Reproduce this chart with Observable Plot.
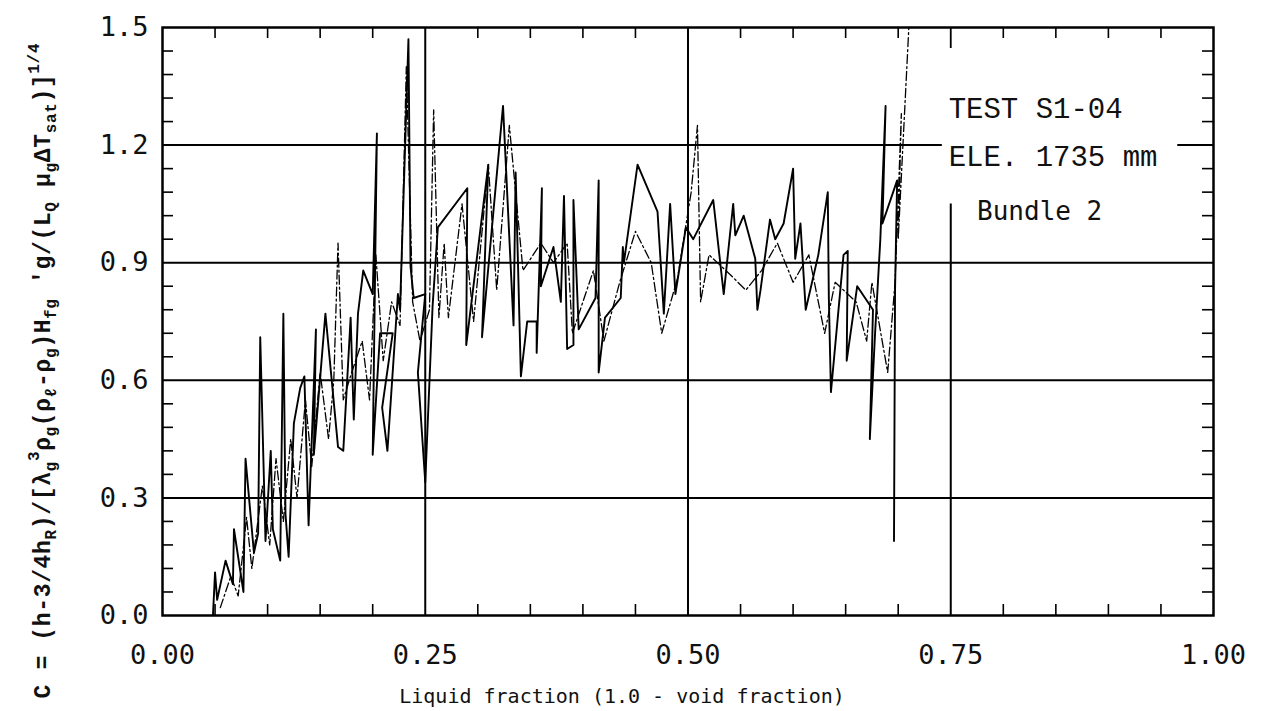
<!DOCTYPE html>
<html>
<head>
<meta charset="utf-8">
<script src="https://cdn.jsdelivr.net/npm/d3@7"></script>
<script src="https://cdn.jsdelivr.net/npm/@observablehq/plot@0.6"></script>
<style>
  html, body { margin: 0; padding: 0; background: #fff; }
  #chart svg { display: block; }
</style>
</head>
<body>
<div id="chart"></div>
<script>
// Heat transfer coefficient correlation C versus liquid fraction, test S1-04, bundle 2

// solid trace (x = liquid fraction, y = C)
const solidX = [0.048,0.050,0.052,0.060,0.067,0.068,0.077,0.079,0.087,0.091,0.093,0.098,0.103,0.105,0.112,0.115,0.117,0.120,0.125,0.131,0.135,0.139,0.144,0.146,0.144,0.155,0.167,0.172,0.179,0.182,0.186,0.191,0.200,0.204,0.200,0.207,0.219,0.209,0.214,0.224,0.226,0.234,0.236,0.239,0.250,0.243,0.250,0.257,0.262,0.290,0.289,0.310,0.304,0.324,0.334,0.336,0.341,0.347,0.356,0.356,0.361,0.360,0.372,0.379,0.382,0.385,0.391,0.391,0.396,0.412,0.415,0.415,0.421,0.436,0.438,0.439,0.452,0.471,0.477,0.483,0.488,0.498,0.505,0.524,0.534,0.543,0.545,0.553,0.564,0.566,0.569,0.578,0.583,0.591,0.600,0.602,0.607,0.612,0.624,0.633,0.634,0.636,0.648,0.652,0.651,0.661,0.676,0.673,0.678,0.683,0.688,0.685,0.699,0.697,0.696];
const solidY = [0.00,0.11,0.04,0.14,0.08,0.22,0.06,0.40,0.16,0.21,0.71,0.19,0.42,0.22,0.14,0.77,0.26,0.15,0.49,0.58,0.61,0.23,0.59,0.73,0.41,0.77,0.43,0.42,0.76,0.50,0.77,0.88,0.82,1.23,0.41,0.72,0.72,0.53,0.42,0.82,0.78,1.47,0.89,0.81,0.82,0.62,0.34,0.79,0.99,1.09,0.69,1.15,0.71,1.30,0.74,1.13,0.61,0.75,0.75,0.67,1.09,0.84,0.94,0.80,1.07,0.68,0.69,1.06,0.73,0.81,1.11,0.62,0.76,0.81,0.94,0.90,1.15,1.03,0.77,1.05,0.82,0.99,0.96,1.06,0.82,1.05,0.97,1.02,0.91,0.78,0.83,1.01,0.96,1.00,1.14,0.91,1.00,0.78,0.92,1.08,0.81,0.57,0.92,0.93,0.65,0.84,0.78,0.45,0.72,0.96,1.30,1.00,1.11,0.83,0.19];

// dash-dot trace
const dashX = [0.055,0.065,0.072,0.080,0.085,0.095,0.102,0.108,0.115,0.122,0.128,0.136,0.142,0.150,0.158,0.163,0.167,0.172,0.180,0.190,0.197,0.203,0.210,0.218,0.226,0.232,0.238,0.245,0.254,0.258,0.263,0.268,0.272,0.285,0.296,0.310,0.318,0.330,0.343,0.360,0.372,0.385,0.390,0.410,0.420,0.435,0.450,0.465,0.475,0.490,0.503,0.509,0.512,0.520,0.540,0.555,0.570,0.585,0.600,0.615,0.630,0.640,0.660,0.670,0.675,0.690,0.697,0.703,0.700,0.712];
const dashY = [0.02,0.10,0.05,0.25,0.12,0.33,0.18,0.40,0.24,0.45,0.30,0.55,0.38,0.62,0.45,0.60,0.95,0.55,0.62,0.70,0.55,0.92,0.65,0.80,0.74,1.40,0.80,0.70,0.78,1.29,0.76,0.95,0.76,1.05,0.75,1.15,0.83,1.25,0.88,0.95,0.90,0.95,0.72,0.88,0.70,0.85,0.98,0.90,0.72,0.86,1.08,1.25,0.80,0.92,0.87,0.83,0.88,0.95,0.85,0.92,0.72,0.85,0.80,0.70,0.85,0.62,0.85,1.28,0.96,1.60];

// axes and grid
const xMajor = [0, 0.25, 0.5, 0.75, 1.0];
const xLabels = ["0.00", "0.25", "0.50", "0.75", "1.00"];
const xMinor = [0.05,0.10,0.15,0.20,0.30,0.35,0.40,0.45,0.55,0.60,0.65,0.70,0.80,0.85,0.90,0.95];
const yMajor = [0, 0.3, 0.6, 0.9, 1.2, 1.5];
const yLabels = ["0.0", "0.3", "0.6", "0.9", "1.2", "1.5"];
const yMinor = [0.06,0.12,0.18,0.24,0.36,0.42,0.48,0.54,0.66,0.72,0.78,0.84,0.96,1.02,1.08,1.14,1.26,1.32,1.38,1.44];
const gridY = [0.3, 0.6, 0.9];
const gridYBroken = [{y: 1.2, x1: 0, x2: 0.742}, {y: 1.2, x1: 0.966, x2: 1.0}];
const gridX = [0.25, 0.5];
const gridXPartial = [{x: 0.75, y1: 0, y2: 1.05}];

const notes = ["TEST S1-04", "ELE. 1735 mm", "Bundle 2"];

const W = 1265, H = 711;
const mL = 162, mR = 52, mT = 27, mB = 96;
const pxX = 1 / (W - mL - mR);        // data units per pixel, x
const pxY = 1.5 / (H - mT - mB);      // data units per pixel, y
const minorLen = 11, majorLen = 21;

const solid = solidX.map((x, i) => ({x, y: solidY[i]}));
const dash = dashX.map((x, i) => ({x, y: dashY[i]}));

const tickFont = "DejaVu Sans Mono";

const svg = Plot.plot({
  width: W, height: H,
  marginLeft: mL, marginRight: mR, marginTop: mT, marginBottom: mB,
  x: {domain: [0, 1], axis: null},
  y: {domain: [0, 1.5], axis: null},
  style: {background: "#fff", color: "#000", overflow: "visible"},
  marks: [
    // grid
    Plot.ruleY(gridY, {stroke: "#000", strokeWidth: 2}),
    Plot.ruleY(gridYBroken, {y: "y", x1: "x1", x2: "x2", stroke: "#000", strokeWidth: 2}),
    Plot.ruleX(gridX, {stroke: "#000", strokeWidth: 2}),
    Plot.ruleX(gridXPartial, {x: "x", y1: "y1", y2: "y2", stroke: "#000", strokeWidth: 2}),
    // minor ticks, inward on all four sides
    Plot.ruleX(xMinor, {y1: 0, y2: minorLen * pxY, stroke: "#000", strokeWidth: 1.6}),
    Plot.ruleX(xMinor, {y1: 1.5 - minorLen * pxY, y2: 1.5, stroke: "#000", strokeWidth: 1.6}),
    Plot.ruleX([0.75], {y1: 1.5 - majorLen * pxY, y2: 1.5, stroke: "#000", strokeWidth: 1.8}),
    Plot.ruleY(yMinor, {x1: 0, x2: minorLen * pxX, stroke: "#000", strokeWidth: 1.6}),
    Plot.ruleY(yMinor, {x1: 1 - minorLen * pxX, x2: 1, stroke: "#000", strokeWidth: 1.6}),
    // data traces
    Plot.line(dash, {x: "x", y: "y", stroke: "#000", strokeWidth: 1.3, strokeDasharray: "9,3,2,3", clip: true}),
    Plot.line(solid, {x: "x", y: "y", stroke: "#000", strokeWidth: 1.9, clip: true}),
    // frame
    Plot.frame({stroke: "#000", strokeWidth: 2.5}),
    // tick labels
    Plot.text(xMajor, {x: d => d, y: () => 0, text: (d, i) => xLabels[i], dy: 40,
      fontFamily: tickFont, fontSize: 27, letterSpacing: 3, fill: "#111"}),
    Plot.text(yMajor, {x: () => 0, y: d => d, text: (d, i) => yLabels[i], dx: -14, textAnchor: "end",
      fontFamily: tickFont, fontSize: 27, letterSpacing: 3, fill: "#111"}),
    // annotations
    Plot.text([notes[0]], {x: () => 0.748, y: () => 1.5 - (117 - mT) * pxY, text: d => d, textAnchor: "start",
      lineAnchor: "bottom", fontFamily: "Liberation Mono", fontSize: 29, letterSpacing: 1.2, fill: "#111"}),
    Plot.text([notes[1]], {x: () => 0.748, y: () => 1.5 - (165 - mT) * pxY, text: d => d, textAnchor: "start",
      lineAnchor: "bottom", fontFamily: "Liberation Mono", fontSize: 29, letterSpacing: 1.5, fill: "#111"}),
    Plot.text([notes[2]], {x: () => 0.775, y: () => 1.5 - (219 - mT) * pxY, text: d => d, textAnchor: "start",
      lineAnchor: "bottom", fontFamily: "DejaVu Sans Mono", fontSize: 26, fill: "#111"})
  ]
});

// x-axis title
d3.select(svg).append("text")
  .attr("x", 622).attr("y", 703)
  .attr("text-anchor", "middle")
  .attr("font-family", "DejaVu Sans Mono")
  .attr("font-size", 20)
  .attr("fill", "#111")
  .text("Liquid fraction (1.0 - void fraction)");

// y-axis title with subscripts and superscripts
const yParts = [
  ["C = (h-3/4h", 0], ["R", 1], [")/[λ", 0], ["g", 1], ["3", -1], ["ρ", 0], ["g", 1],
  ["(ρ", 0], ["ℓ", 1], ["-ρ", 0], ["g", 1], [")H", 0], ["fg", 1], [" 'g/(L", 0], ["Q", 1],
  [" μ", 0], ["g", 1], ["ΔT", 0], ["sat", 1], [")]", 0], ["1/4", -1]
];
const mainSize = 23, smallSize = 16;
const yTitle = d3.select(svg).append("text")
  .attr("transform", "translate(50,371) rotate(-90)")
  .attr("text-anchor", "middle")
  .attr("font-family", "Liberation Mono")
  .attr("font-weight", "bold")
  .attr("font-size", mainSize)
  .attr("fill", "#111");
let level = 0;
for (const [t, lv] of yParts) {
  const shift = lv === 1 ? 6 : lv === -1 ? -11 : 0;
  yTitle.append("tspan")
    .attr("dy", shift - level)
    .attr("font-size", lv === 0 ? mainSize : smallSize)
    .text(t);
  level = shift;
}
yTitle.attr("textLength", 655).attr("lengthAdjust", "spacing");

document.getElementById("chart").appendChild(svg);
</script>
</body>
</html>
